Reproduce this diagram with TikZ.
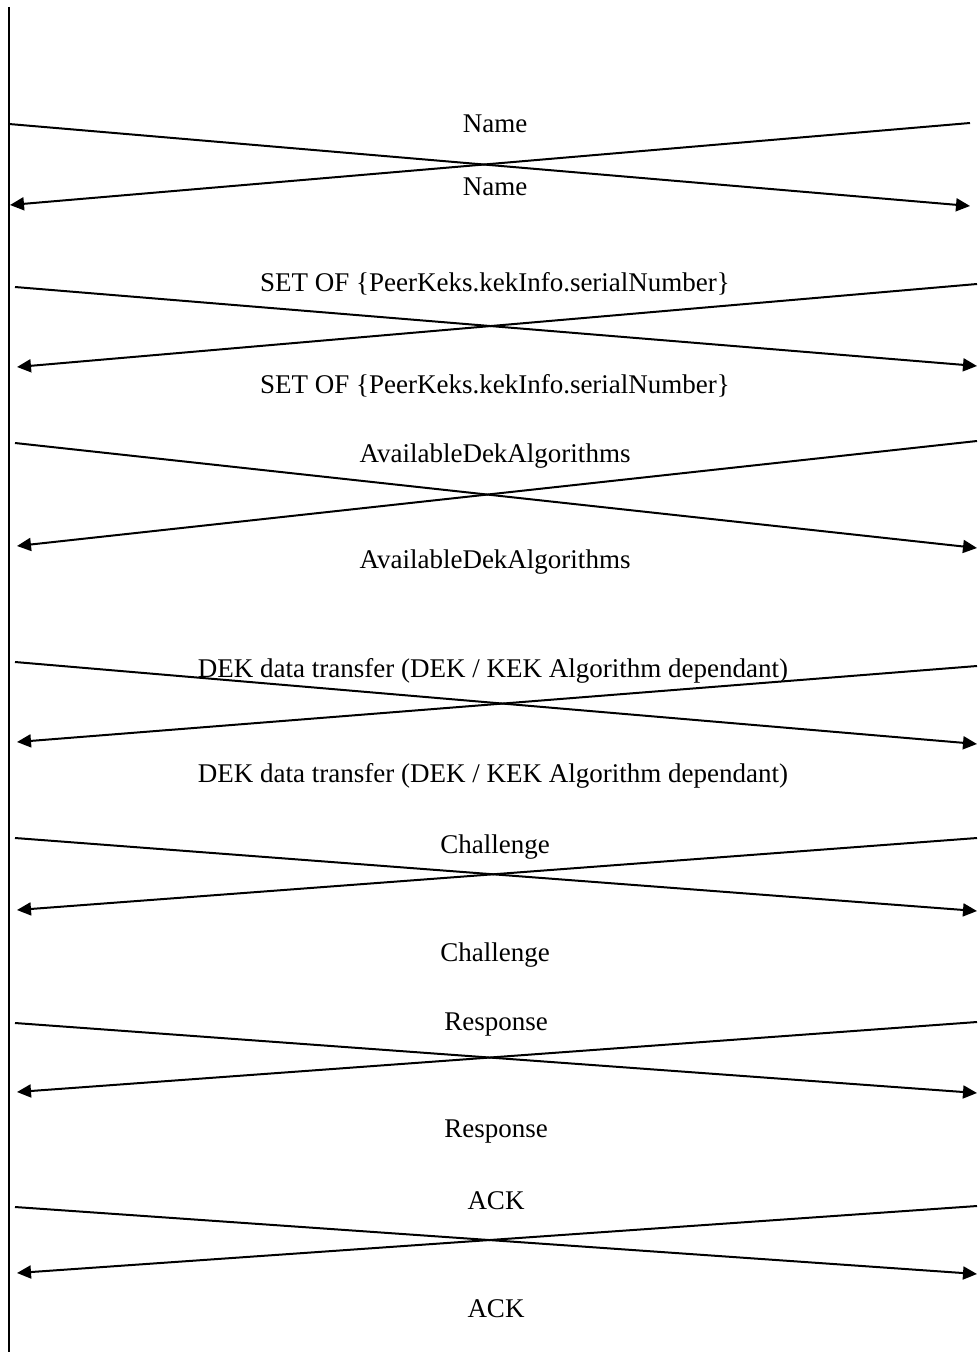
\documentclass[tikz,border=0pt]{standalone}
\usepackage{fontspec}
\setmainfont{Liberation Serif}
\usetikzlibrary{arrows.meta}
\tikzset{
  msg/.style={line width=2pt, -{Triangle[length=14pt,width=13pt]}},
  lbl/.style={font=\fontsize{27}{30}\selectfont, inner sep=0pt, anchor=center},
  life/.style={line width=2pt}
}
\begin{document}
\begin{tikzpicture}[x=1pt,y=-1pt]
\useasboundingbox (0,0) rectangle (979,1367);
% lifeline on the left
\coordinate (lt) at (9,7);
\coordinate (lb) at (9,1352);
\draw[life] (lt) -- (lb);

% pair 1
\coordinate (a1) at (9,124);   \coordinate (b1) at (970,206);
\coordinate (c1) at (970,123); \coordinate (d1) at (10,205);
\draw[msg] (a1) -- (b1);
\draw[msg] (c1) -- (d1);
\node[lbl] (n1a) at (495,124) {Name};
\node[lbl] (n1b) at (495,187) {Name};

% pair 2
\coordinate (a2) at (15,287);  \coordinate (b2) at (977,366);
\coordinate (c2) at (977,284); \coordinate (d2) at (17,367);
\draw[msg] (a2) -- (b2);
\draw[msg] (c2) -- (d2);
\node[lbl] (n2a) at (495,284) {SET OF \{PeerKeks.kekInfo.serialNumber\}};
\node[lbl] (n2b) at (495,386) {SET OF \{PeerKeks.kekInfo.serialNumber\}};

% pair 3
\coordinate (a3) at (15,443);  \coordinate (b3) at (977,548);
\coordinate (c3) at (977,441); \coordinate (d3) at (17,546);
\draw[msg] (a3) -- (b3);
\draw[msg] (c3) -- (d3);
\node[lbl] (n3a) at (495,456) {AvailableDekAlgorithms};
\node[lbl] (n3b) at (495,562) {AvailableDekAlgorithms};

% pair 4
\coordinate (a4) at (15,662);  \coordinate (b4) at (977,744);
\coordinate (c4) at (977,666); \coordinate (d4) at (17,742);
\draw[msg] (a4) -- (b4);
\draw[msg] (c4) -- (d4);
\node[lbl] (n4a) at (493,671) {DEK data transfer (DEK / KEK Algorithm dependant)};
\node[lbl] (n4b) at (493,776) {DEK data transfer (DEK / KEK Algorithm dependant)};

% pair 5
\coordinate (a5) at (15,838);  \coordinate (b5) at (977,911);
\coordinate (c5) at (977,838); \coordinate (d5) at (17,910);
\draw[msg] (a5) -- (b5);
\draw[msg] (c5) -- (d5);
\node[lbl] (n5a) at (495,847) {Challenge};
\node[lbl] (n5b) at (495,955) {Challenge};

% pair 6
\coordinate (a6) at (15,1023);  \coordinate (b6) at (977,1093);
\coordinate (c6) at (977,1022); \coordinate (d6) at (17,1092);
\draw[msg] (a6) -- (b6);
\draw[msg] (c6) -- (d6);
\node[lbl] (n6a) at (496,1025) {Response};
\node[lbl] (n6b) at (496,1132) {Response};

% pair 7
\coordinate (a7) at (15,1207);  \coordinate (b7) at (977,1274);
\coordinate (c7) at (977,1206); \coordinate (d7) at (17,1273);
\draw[msg] (a7) -- (b7);
\draw[msg] (c7) -- (d7);
\node[lbl] (n7a) at (496,1201) {ACK};
\node[lbl] (n7b) at (496,1309) {ACK};
\end{tikzpicture}
\end{document}
